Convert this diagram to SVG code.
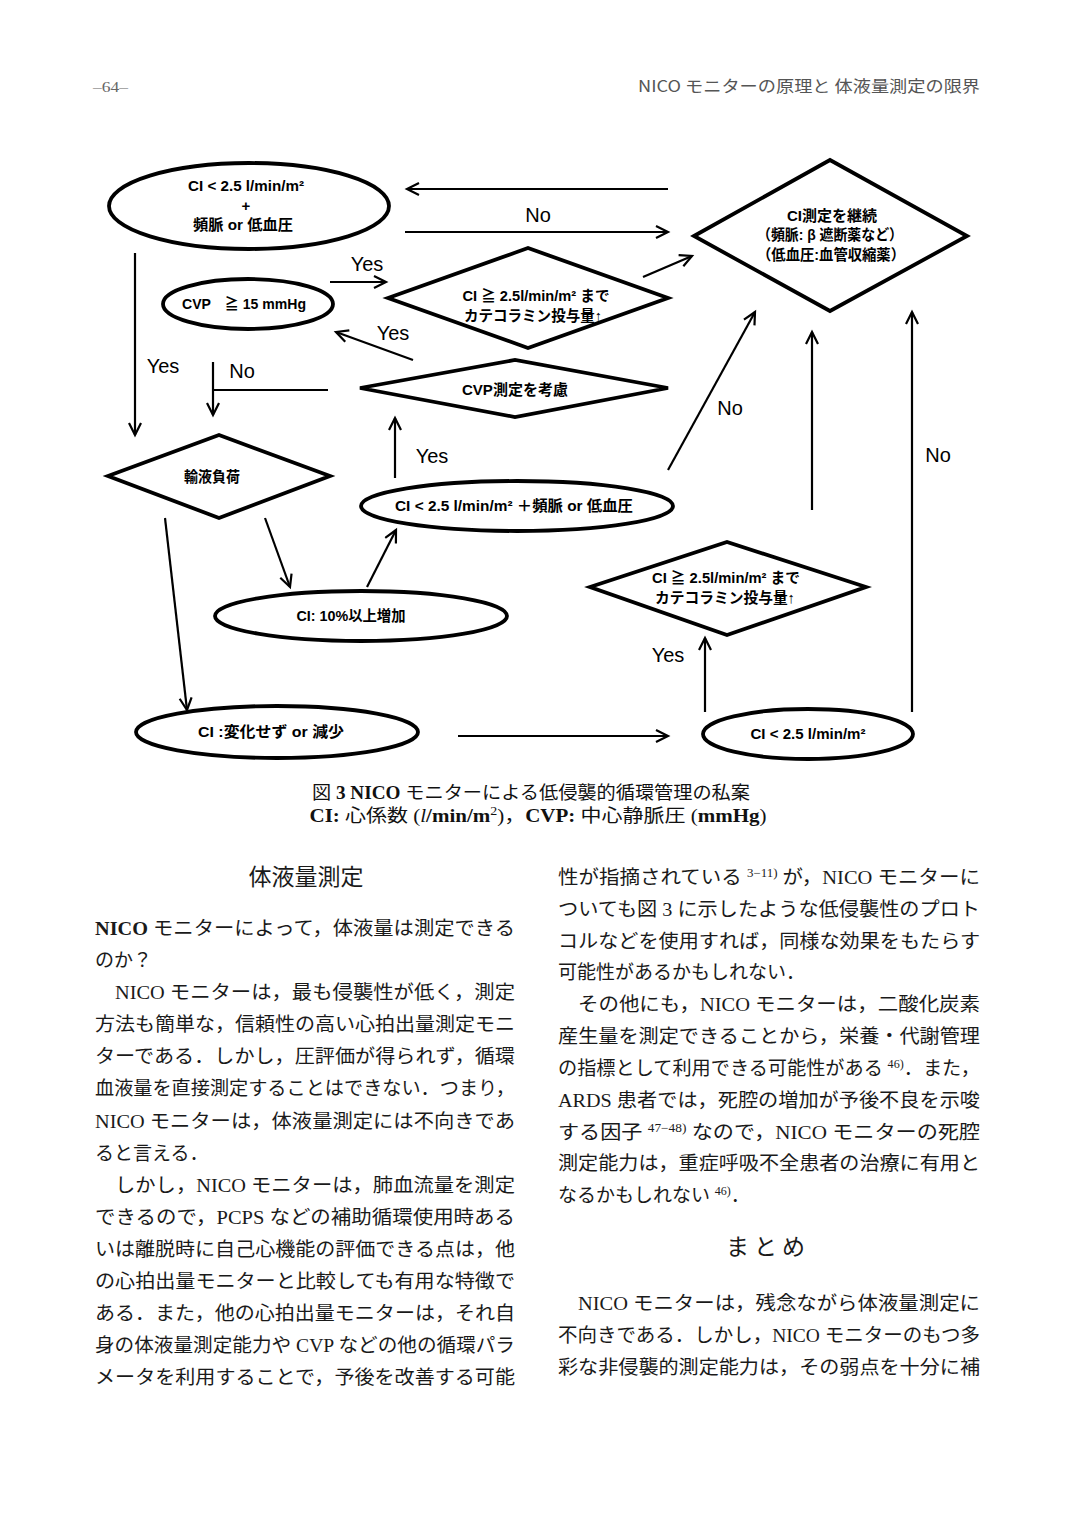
<svg xmlns="http://www.w3.org/2000/svg" width="1075" height="1518" viewBox="0 0 1075 1518">
<style>
.sh{fill:#fff;stroke:#000;stroke-width:3.8}
.cn{fill:none;stroke:#000;stroke-width:2.2}
.ar{marker-end:url(#ah)}
.nt{font-family:"Liberation Sans","Noto Sans CJK JP",sans-serif;font-weight:bold;font-size:15px;text-anchor:middle;fill:#000}
.lb{font-family:"Liberation Sans","DejaVu Sans",sans-serif;font-size:20px;fill:#000}
.bd{font-family:"Liberation Serif","Noto Sans CJK JP",serif;font-size:19px;fill:#1a1a1a}
.hd{font-family:"Noto Sans CJK JP",sans-serif;font-size:23px;fill:#1a1a1a;text-anchor:middle}
.cap{font-family:"Liberation Serif","Noto Sans CJK JP",serif;font-size:18px;fill:#111;text-anchor:middle}
.sup{font-size:12px}
</style>
<defs>
<marker id="ah" markerUnits="userSpaceOnUse" markerWidth="16" markerHeight="16" refX="13" refY="7" orient="auto">
<path d="M1,1 L13,7 L1,13" fill="none" stroke="#000" stroke-width="2.2"/>
</marker>
</defs>
<rect width="1075" height="1518" fill="#fff"/>

<g id="header">
<text x="93" y="92" font-family="Liberation Serif,serif" font-size="14" fill="#666" textLength="35" lengthAdjust="spacingAndGlyphs">–64–</text>
<text x="980" y="92" font-family="Noto Sans CJK JP,sans-serif" font-size="16" fill="#555" text-anchor="end" textLength="342" lengthAdjust="spacingAndGlyphs">NICO モニターの原理と 体液量測定の限界</text>
</g>

<g id="connectors">
<path class="cn ar" d="M668,189 L407,189"/>
<path class="cn ar" d="M405,232 L668,232"/>
<path class="cn ar" d="M135,253 L135,435"/>
<path class="cn ar" d="M330,282 L386,282"/>
<path class="cn ar" d="M643,277 L692,256"/>
<path class="cn ar" d="M413,360 L336,332"/>
<path class="cn" d="M328,390 L213,390"/>
<path class="cn ar" d="M213,362 L213,415"/>
<path class="cn ar" d="M395,478 L395,418"/>
<path class="cn ar" d="M668,470 L755,312"/>
<path class="cn ar" d="M265,518 L290,587"/>
<path class="cn ar" d="M165,518 L187,710"/>
<path class="cn ar" d="M367,587 L396,530"/>
<path class="cn ar" d="M458,736 L668,736"/>
<path class="cn ar" d="M705,712 L705,638"/>
<path class="cn ar" d="M812,510 L812,332"/>
<path class="cn ar" d="M912,712 L912,312"/>
<text class="lb" x="538" y="222" text-anchor="middle">No</text>
<text class="lb" x="163" y="373" text-anchor="middle">Yes</text>
<text class="lb" x="367" y="271" text-anchor="middle">Yes</text>
<text class="lb" x="393" y="340" text-anchor="middle">Yes</text>
<text class="lb" x="242" y="378" text-anchor="middle">No</text>
<text class="lb" x="432" y="463" text-anchor="middle">Yes</text>
<text class="lb" x="730" y="415" text-anchor="middle">No</text>
<text class="lb" x="668" y="662" text-anchor="middle">Yes</text>
<text class="lb" x="938" y="462" text-anchor="middle">No</text>
</g>

<g id="n_start">
<ellipse class="sh" cx="249" cy="206" rx="140" ry="43"/>
<text class="nt" x="246" y="191" textLength="116" lengthAdjust="spacingAndGlyphs">CI &lt; 2.5 l/min/m²</text>
<text class="nt" x="246" y="211" font-size="20" font-weight="normal">+</text>
<text class="nt" x="243" y="230" textLength="100" lengthAdjust="spacingAndGlyphs">頻脈 or 低血圧</text>
</g>

<g id="n_continue">
<path class="sh" d="M694,236 L830,160 L967,236 L830,311 Z"/>
<text class="nt" x="832" y="221" textLength="90" lengthAdjust="spacingAndGlyphs">CI測定を継続</text>
<text class="nt" x="830" y="240" textLength="146" lengthAdjust="spacingAndGlyphs">（頻脈: β 遮断薬など）</text>
<text class="nt" x="831" y="260" textLength="148" lengthAdjust="spacingAndGlyphs">（低血圧:血管収縮薬）</text>
</g>

<g id="n_cvp15">
<ellipse class="sh" cx="248" cy="304" rx="85" ry="25"/>
<text class="nt" x="244" y="309" textLength="124" lengthAdjust="spacingAndGlyphs">CVP　≧ 15 mmHg</text>
</g>

<g id="n_cate1">
<path class="sh" d="M388,298 L528,248 L668,298 L528,348 Z"/>
<text class="nt" x="536" y="301" textLength="147" lengthAdjust="spacingAndGlyphs">CI ≧ 2.5l/min/m² まで</text>
<text class="nt" x="533" y="321" textLength="138" lengthAdjust="spacingAndGlyphs">カテコラミン投与量↑</text>
</g>

<g id="n_cvpmeas">
<path class="sh" d="M360,388 L515,360 L668,388 L515,417 Z"/>
<text class="nt" x="515" y="395" textLength="106" lengthAdjust="spacingAndGlyphs">CVP測定を考慮</text>
</g>

<g id="n_fluid">
<path class="sh" d="M108,476 L219,435 L330,476 L219,518 Z"/>
<text class="nt" x="212" y="482" textLength="56" lengthAdjust="spacingAndGlyphs">輸液負荷</text>
</g>

<g id="n_ci_hr">
<ellipse class="sh" cx="517" cy="506" rx="156" ry="25"/>
<text class="nt" x="514" y="511" textLength="238" lengthAdjust="spacingAndGlyphs">CI &lt; 2.5 l/min/m² ＋頻脈 or 低血圧</text>
</g>

<g id="n_ci10">
<ellipse class="sh" cx="361" cy="616" rx="146" ry="25"/>
<text class="nt" x="351" y="621" textLength="109" lengthAdjust="spacingAndGlyphs">CI: 10%以上増加</text>
</g>

<g id="n_cinochange">
<ellipse class="sh" cx="277" cy="732" rx="141" ry="26"/>
<text class="nt" x="271" y="737" textLength="146" lengthAdjust="spacingAndGlyphs">CI :変化せず or 減少</text>
</g>

<g id="n_ci25">
<ellipse class="sh" cx="808" cy="734" rx="105" ry="25"/>
<text class="nt" x="808" y="739" textLength="115" lengthAdjust="spacingAndGlyphs">CI &lt; 2.5 l/min/m²</text>
</g>

<g id="n_cate2">
<path class="sh" d="M590,587 L727,542 L866,587 L727,635 Z"/>
<text class="nt" x="726" y="583" textLength="148" lengthAdjust="spacingAndGlyphs">CI ≧ 2.5l/min/m² まで</text>
<text class="nt" x="725" y="603" textLength="140" lengthAdjust="spacingAndGlyphs">カテコラミン投与量↑</text>
</g>

<g id="caption">
<text class="cap" x="531" y="799" textLength="438" lengthAdjust="spacingAndGlyphs">図 <tspan font-weight="bold">3 NICO</tspan> モニターによる低侵襲的循環管理の私案</text>
<text class="cap" x="538" y="822" textLength="457" lengthAdjust="spacingAndGlyphs"><tspan font-weight="bold">CI:</tspan> 心係数 (<tspan font-style="italic">l</tspan><tspan font-weight="bold">/min/m</tspan><tspan font-size="12" dy="-7">2</tspan><tspan dy="7">)，</tspan><tspan font-weight="bold">CVP:</tspan> 中心静脈圧 (<tspan font-weight="bold">mmHg</tspan>)</text>
</g>

<g id="body_left">
<text class="hd" x="306" y="885">体液量測定</text>
<text class="bd" x="95" y="935" textLength="420" lengthAdjust="spacingAndGlyphs"><tspan font-weight="bold">NICO</tspan> モニターによって，体液量は測定できる</text>
<text class="bd" x="95" y="967">のか？</text>
<text class="bd" x="115" y="999" textLength="400" lengthAdjust="spacingAndGlyphs">NICO モニターは，最も侵襲性が低く，測定</text>
<text class="bd" x="95" y="1031" textLength="420" lengthAdjust="spacingAndGlyphs">方法も簡単な，信頼性の高い心拍出量測定モニ</text>
<text class="bd" x="95" y="1063" textLength="420" lengthAdjust="spacingAndGlyphs">ターである．しかし，圧評価が得られず，循環</text>
<text class="bd" x="95" y="1095" textLength="420" lengthAdjust="spacingAndGlyphs">血液量を直接測定することはできない．つまり，</text>
<text class="bd" x="95" y="1128" textLength="420" lengthAdjust="spacingAndGlyphs">NICO モニターは，体液量測定には不向きであ</text>
<text class="bd" x="95" y="1160">ると言える．</text>
<text class="bd" x="115" y="1192" textLength="400" lengthAdjust="spacingAndGlyphs">しかし，NICO モニターは，肺血流量を測定</text>
<text class="bd" x="95" y="1224" textLength="420" lengthAdjust="spacingAndGlyphs">できるので，PCPS などの補助循環使用時ある</text>
<text class="bd" x="95" y="1256" textLength="420" lengthAdjust="spacingAndGlyphs">いは離脱時に自己心機能の評価できる点は，他</text>
<text class="bd" x="95" y="1288" textLength="420" lengthAdjust="spacingAndGlyphs">の心拍出量モニターと比較しても有用な特徴で</text>
<text class="bd" x="95" y="1320" textLength="420" lengthAdjust="spacingAndGlyphs">ある．また，他の心拍出量モニターは，それ自</text>
<text class="bd" x="95" y="1352" textLength="420" lengthAdjust="spacingAndGlyphs">身の体液量測定能力や CVP などの他の循環パラ</text>
<text class="bd" x="95" y="1384" textLength="420" lengthAdjust="spacingAndGlyphs">メータを利用することで，予後を改善する可能</text>
</g>

<g id="body_right">
<text class="bd" x="558" y="884" textLength="422" lengthAdjust="spacingAndGlyphs">性が指摘されている <tspan class="sup" dy="-7">3−11)</tspan><tspan dy="7"> が，NICO モニターに</tspan></text>
<text class="bd" x="558" y="916" textLength="422" lengthAdjust="spacingAndGlyphs">ついても図 3 に示したような低侵襲性のプロト</text>
<text class="bd" x="558" y="948" textLength="422" lengthAdjust="spacingAndGlyphs">コルなどを使用すれば，同様な効果をもたらす</text>
<text class="bd" x="558" y="979">可能性があるかもしれない．</text>
<text class="bd" x="578" y="1011" textLength="402" lengthAdjust="spacingAndGlyphs">その他にも，NICO モニターは，二酸化炭素</text>
<text class="bd" x="558" y="1043" textLength="422" lengthAdjust="spacingAndGlyphs">産生量を測定できることから，栄養・代謝管理</text>
<text class="bd" x="558" y="1075" textLength="422" lengthAdjust="spacingAndGlyphs">の指標として利用できる可能性がある <tspan class="sup" dy="-7">46)</tspan><tspan dy="7">．また，</tspan></text>
<text class="bd" x="558" y="1107" textLength="422" lengthAdjust="spacingAndGlyphs">ARDS 患者では，死腔の増加が予後不良を示唆</text>
<text class="bd" x="558" y="1139" textLength="422" lengthAdjust="spacingAndGlyphs">する因子 <tspan class="sup" dy="-7">47−48)</tspan><tspan dy="7"> なので，NICO モニターの死腔</tspan></text>
<text class="bd" x="558" y="1170" textLength="422" lengthAdjust="spacingAndGlyphs">測定能力は，重症呼吸不全患者の治療に有用と</text>
<text class="bd" x="558" y="1202">なるかもしれない <tspan class="sup" dy="-7">46)</tspan><tspan dy="7">．</tspan></text>
<text class="hd" x="768" y="1255" letter-spacing="5">まとめ</text>
<text class="bd" x="578" y="1310" textLength="402" lengthAdjust="spacingAndGlyphs">NICO モニターは，残念ながら体液量測定に</text>
<text class="bd" x="558" y="1342" textLength="422" lengthAdjust="spacingAndGlyphs">不向きである．しかし，NICO モニターのもつ多</text>
<text class="bd" x="558" y="1374" textLength="422" lengthAdjust="spacingAndGlyphs">彩な非侵襲的測定能力は，その弱点を十分に補</text>
</g>
</svg>
